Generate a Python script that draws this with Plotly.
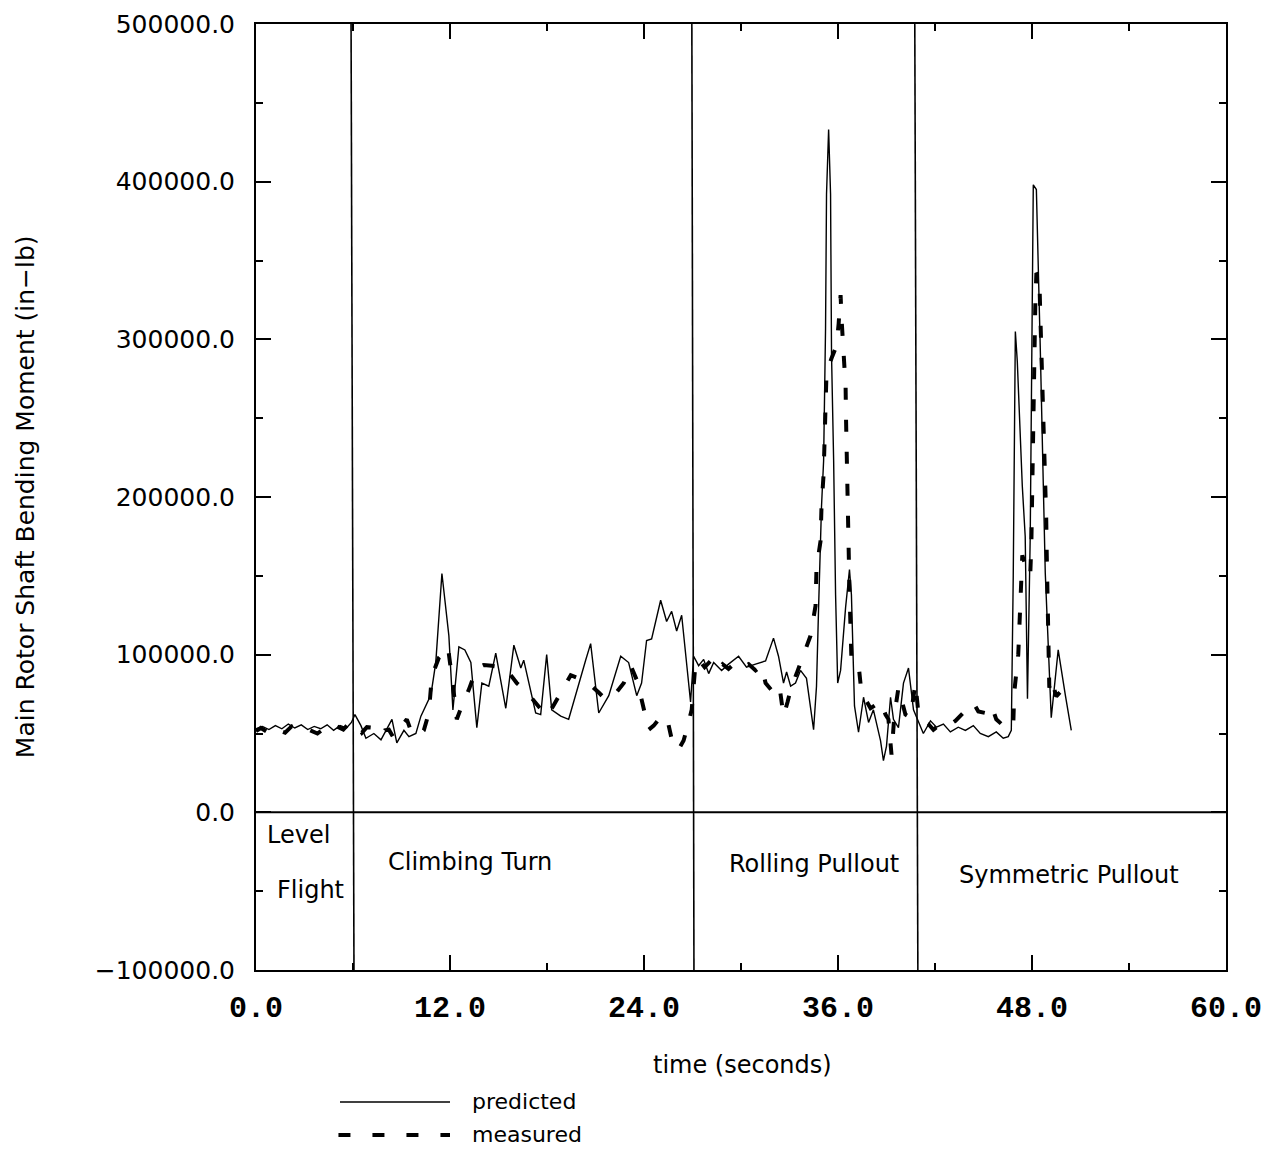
import plotly.graph_objects as go

# ---------------- data ----------------
pred_t = [0.0, 0.4, 0.8, 1.2, 1.6, 2.0, 2.4, 2.8, 3.2, 3.6, 4.0, 4.4, 4.8, 5.2, 5.6, 5.9,
          6.12, 6.49, 6.80, 7.29, 7.73, 8.10, 8.41, 8.71, 9.15, 9.46, 9.89, 10.20, 10.82, 11.12,
          11.50, 11.93, 12.18, 12.55, 12.92, 13.29, 13.66, 13.97, 14.40, 14.83, 15.45, 15.95,
          16.38, 16.56, 17.30, 17.61, 17.98, 18.29, 18.85, 19.34, 19.96, 20.39, 20.70, 21.20,
          21.82, 22.56, 23.05, 23.55, 23.85, 24.16, 24.47, 25.03, 25.40, 25.71, 26.02, 26.33,
          26.88, 27.07,
          27.38, 27.69, 28.00, 28.31, 28.80, 29.23, 29.85, 30.34, 30.90, 31.52, 32.01, 32.32,
          32.63, 32.82, 33.07, 33.37, 33.68, 34.05, 34.49, 34.67, 34.80, 34.98, 35.11, 35.23,
          35.29, 35.42, 35.54, 35.60, 35.73, 35.85, 35.98, 36.16, 36.47, 36.71, 36.83, 37.02,
          37.27, 37.58, 37.89, 38.19, 38.63, 38.81, 39.00, 39.25, 39.43, 39.74, 40.05, 40.36,
          40.67, 40.98,
          41.28, 41.72, 42.09, 42.52, 42.95, 43.44, 43.88, 44.37, 44.80, 45.30, 45.79, 46.22,
          46.53, 46.72, 46.84, 46.97, 47.09, 47.40, 47.58, 47.72, 47.89, 48.08, 48.27, 48.51,
          48.82, 49.19, 49.62, 50.06, 50.43]
pred_v = [53000, 54500, 52500, 55000, 53000, 56000, 53500, 55500, 52500, 54500, 53000, 55500,
          52000, 55000, 53500, 57000,
          62000, 55000, 47000, 50000, 46000, 53000, 59000, 44000, 52000, 48000, 50000, 61000,
          74500, 95000, 151500, 112000, 65000, 105000, 103000, 95000, 53700, 82000, 80000,
          101000, 66000, 106000, 91500, 96500, 63000, 62000, 100000, 65000, 61000, 59000, 82000,
          96500, 107000, 63000, 74000, 99000, 95000, 74000, 82000, 109000, 110000, 134500,
          121000, 127500, 115000, 125000, 70000, 99000,
          93000, 97000, 88000, 95000, 90000, 94000, 99000, 92000, 94000, 96000, 110500, 99000,
          82000, 89000, 80000, 82000, 90000, 85000, 52400, 80000, 130000, 194000, 223000,
          307000, 392000, 433000, 392000, 290000, 223000, 138000, 82000, 90000, 130000, 154000,
          138000, 67500, 50800, 73000, 57000, 65000, 45500, 32800, 42000, 73000, 59000, 53700,
          82000, 91500, 65000, 57000,
          50000, 58000, 54000, 56000, 51000, 54000, 52000, 55000, 50000, 48000, 51000, 47000,
          48000, 52000, 150000, 305000, 286000, 207000, 175000, 72000, 175000, 398000, 395000,
          295000, 152000, 60000, 103000, 74500, 52000]

meas_t = [0.0, 0.3, 0.7, 1.0, 1.4, 1.8, 2.2, 2.6, 3.0, 3.4, 3.8, 4.2, 4.6, 5.0, 5.4, 5.8,
          6.24, 6.55, 6.86, 7.17, 7.48, 7.73, 7.97, 8.22, 8.47, 8.71, 9.02, 9.33, 9.64, 10.07,
          10.38, 10.69, 10.88, 11.31, 11.87, 12.18, 12.42, 12.73, 13.16, 13.66, 14.09, 14.59,
          15.02, 15.45, 15.76, 16.13, 16.69, 17.18, 17.61, 17.98, 18.36, 18.73, 19.10, 19.47,
          19.96, 20.77, 21.20, 21.63, 22.13, 22.75, 23.18, 23.55, 23.85, 24.29, 24.60, 24.91,
          25.40, 25.83, 26.14, 26.45, 26.70, 26.95, 27.19,
          27.38, 27.75, 28.12, 28.49, 28.86, 29.23, 29.67, 30.10, 30.47, 30.90, 31.27, 31.52,
          32.01, 32.38, 32.63, 32.88, 33.13, 33.44, 33.68, 33.93, 34.30, 34.61, 34.67, 34.92,
          34.98, 35.11, 35.17, 35.23, 35.29, 35.60, 35.91, 36.04, 36.16, 36.22, 36.34, 36.47,
          36.50, 36.53, 36.56, 36.59, 36.65, 36.71, 36.77, 36.83, 37.08, 37.27, 37.45, 37.70,
          38.01, 38.32, 38.63, 38.94, 39.12, 39.31, 39.49, 39.74, 39.99, 40.17, 40.48, 40.79,
          40.98,
          41.28, 41.59, 41.90, 42.33, 42.83, 43.26, 43.63, 44.07, 44.37, 44.68, 45.12, 45.49,
          45.79, 46.22, 46.53, 46.84, 46.90, 47.15, 47.21, 47.28, 47.40, 47.65, 47.89, 47.96,
          47.99, 48.02, 48.05, 48.08, 48.11, 48.14, 48.20, 48.27, 48.45, 48.51, 48.58, 48.64,
          48.70, 48.76, 48.82, 48.88, 48.91, 48.95, 48.98, 49.01, 49.07, 49.19, 49.50, 49.99,
          50.12, 50.37]
meas_v = [51500, 53500, 51000, 54000, 52000, 50500, 54500, 52000, 53500, 51500, 50000, 53000,
          51000, 54500, 52500, 57000,
          55000, 50500, 54000, 53700, 49000, 49000, 52000, 52400, 48000, 49000, 55000, 59000,
          50000, 49000, 52000, 63000, 86500, 98000, 105000, 81000, 59000, 67500, 77700, 91500,
          93500, 93000, 92000, 91500, 87000, 82000, 77000, 70700, 65000, 61000, 67000, 74000,
          81000, 87000, 85000, 80000, 76000, 71500, 74000, 82000, 93000, 84000, 71500, 52400,
          55000, 59000, 61000, 41000, 40000, 45500, 55000, 65000, 95000,
          97000, 92000, 96000, 90000, 94000, 91000, 95000, 92000, 94000, 90000, 93000, 82000,
          76000, 80000, 61000, 70000, 80000, 88000, 95000, 103000, 112000, 131000, 155000,
          172000, 194000, 214500, 236700, 257000, 279000, 288000, 296000, 310000, 328000,
          313000, 291000, 270000, 248000, 227000, 205000, 184000, 161000, 141000, 118700,
          97000, 96000, 94000, 76000, 72000, 66000, 68000, 70700, 62000, 59000, 36600, 62000,
          79000, 70000, 62000, 60000, 82000, 62000,
          58000, 56000, 52400, 56000, 55000, 58000, 62000, 66000, 69500, 64000, 63000, 68000,
          59000, 55000, 53000, 55000, 76000, 100000, 119000, 140000, 163000, 155000, 150000,
          170000, 191000, 213000, 234000, 255000, 275000, 299000, 320000, 342000, 340000,
          317000, 295000, 273000, 252000, 229000, 207000, 186000, 165000, 144000, 123000,
          100000, 79000, 85000, 73500, 79000, 84000, 83000]

x_ticks = [0, 12, 24, 36, 48, 60]
x_tick_text = ["0.0", "12.0", "24.0", "36.0", "48.0", "60.0"]
y_ticks = [-100000, 0, 100000, 200000, 300000, 400000, 500000]
y_tick_text = ["\u2212100000.0", "0.0", "100000.0", "200000.0", "300000.0", "400000.0", "500000.0"]

# phase boundaries (time at top and bottom of the frame, the scan is slightly tilted)
phase_bounds_top = [5.88, 26.96, 40.75]
phase_bounds_bottom = [6.06, 27.09, 40.94]
phase_labels = ["Level", "Flight", "Climbing Turn", "Rolling Pullout", "Symmetric Pullout"]
phase_label_t = [2.6, 3.35, 13.23, 34.5, 50.3]
phase_label_v = [-14500, -49000, -31500, -32800, -39800]

# ---------------- figure ----------------
SANS = "DejaVu Sans"
fig = go.Figure()
fig.add_trace(go.Scatter(x=pred_t, y=pred_v, mode="lines", name="predicted",
                         line=dict(color="black", width=1.4), showlegend=False))
fig.add_trace(go.Scatter(x=meas_t, y=meas_v, mode="lines", name="measured",
                         line=dict(color="black", width=4, dash="12px,20px"), showlegend=False))

LEG_Y1 = -0.1395
LEG_Y2 = -0.1744

shapes = []
for xt, xb in zip(phase_bounds_top, phase_bounds_bottom):
    shapes.append(dict(type="line", xref="x", yref="y", x0=xb, x1=xt, y0=-100000, y1=500000,
                       line=dict(color="black", width=1.6)))
shapes.append(dict(type="line", xref="x", yref="y", x0=0, x1=60, y0=0, y1=0,
                   line=dict(color="black", width=2)))
# legend samples
shapes.append(dict(type="line", xref="paper", yref="paper", x0=0.0866, x1=0.2, y0=LEG_Y1, y1=LEG_Y1,
                   line=dict(color="black", width=1.4)))
shapes.append(dict(type="line", xref="paper", yref="paper", x0=0.085, x1=0.2, y0=LEG_Y2, y1=LEG_Y2,
                   line=dict(color="black", width=4, dash="12px,22px")))

annotations = []
for lab, t, v in zip(phase_labels, phase_label_t, phase_label_v):
    annotations.append(dict(x=t, y=v, xref="x", yref="y", text=lab, showarrow=False,
                            font=dict(family=SANS, size=24, color="black"),
                            xanchor="center", yanchor="middle"))
annotations.append(dict(x=0.502, y=-0.1004, xref="paper", yref="paper", text="time (seconds)",
                        showarrow=False, font=dict(family=SANS, size=24, color="black"),
                        xanchor="center", yanchor="middle"))
annotations.append(dict(x=-0.238, y=0.5, xref="paper", yref="paper",
                        text="Main Rotor Shaft Bending Moment (in\u2212lb)", textangle=-90,
                        showarrow=False, font=dict(family=SANS, size=25, color="black"),
                        xanchor="center", yanchor="middle"))
annotations.append(dict(x=0.2206, y=LEG_Y1, xref="paper", yref="paper", text="predicted",
                        showarrow=False, font=dict(family=SANS, size=22, color="black"),
                        xanchor="left", yanchor="middle"))
annotations.append(dict(x=0.2206, y=LEG_Y2, xref="paper", yref="paper", text="measured",
                        showarrow=False, font=dict(family=SANS, size=22, color="black"),
                        xanchor="left", yanchor="middle"))

# the page body has an 8px margin, so the figure is 16px smaller than the window
fig.update_layout(
    width=1255, height=1140, autosize=False,
    margin=dict(l=248, r=37, t=16, b=178),
    paper_bgcolor="white", plot_bgcolor="white",
    shapes=shapes, annotations=annotations,
    xaxis=dict(range=[0, 60], tickvals=x_ticks, ticktext=x_tick_text, automargin=False,
               ticks="inside", ticklen=15, tickwidth=1.5, tickcolor="black",
               minor=dict(ticks="inside", ticklen=7, tickwidth=1.5, tickcolor="black", dtick=6),
               showline=True, linecolor="black", linewidth=2, mirror="allticks",
               showgrid=False, zeroline=False, ticklabelstandoff=9, ticklabeloverflow="allow",
               tickfont=dict(family="Liberation Mono", size=30, color="black", weight="bold")),
    yaxis=dict(range=[-100000, 500000], tickvals=y_ticks, ticktext=y_tick_text, automargin=False,
               ticks="inside", ticklen=15, tickwidth=1.5, tickcolor="black",
               minor=dict(ticks="inside", ticklen=7, tickwidth=1.5, tickcolor="black", dtick=50000),
               showline=True, linecolor="black", linewidth=2, mirror="allticks",
               showgrid=False, zeroline=False, ticklabelstandoff=14, ticklabeloverflow="allow",
               tickfont=dict(family=SANS, size=25, color="black")),
)

fig.write_html("out.html")
